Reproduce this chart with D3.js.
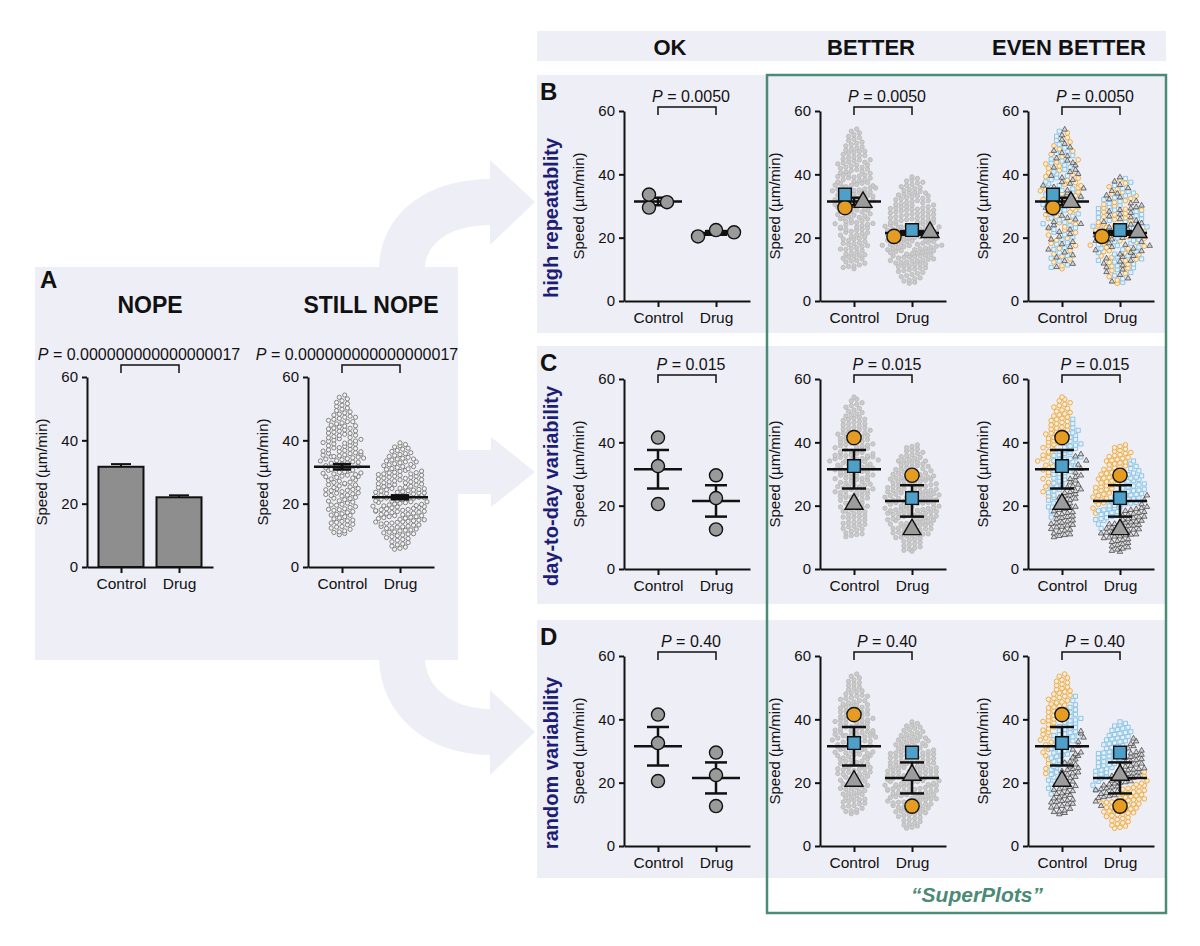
<!DOCTYPE html>
<html>
<head>
<meta charset="utf-8">
<script src="https://cdnjs.cloudflare.com/ajax/libs/d3/7.8.5/d3.min.js"></script>
<style>
  body { margin: 0; background: #fff; }
  svg text { font-family: "Liberation Sans", Arial, Helvetica, sans-serif; fill: #111; }
</style>
</head>
<body>
<div id="chart"></div>
<script>
(function () {
    // ---- data ----
    var categories = ["Control", "Drug"];
    var yTicks = [0, 20, 40, 60];

    // cell speeds (µm/min), split in the three experiment groups (low / mid / high)
    var ctrlLo = [10.2, 10.6, 10.9, 11.1, 11.4, 11.9, 12.3, 12.6, 12.8, 13.3, 13.5, 13.9, 14.1, 14.4, 14.6, 14.8,
        15.2, 15.5, 15.9, 16.3, 16.6, 16.8, 17.2, 17.5, 17.9, 18.1, 18.4, 18.8, 19.1, 19.5, 19.8,
        20.2, 20.5, 20.9, 21.3, 21.6, 22.0, 22.4, 22.7, 23.1, 23.4, 23.8, 24.2, 24.5, 24.8,
        25.3, 25.9, 26.4, 26.8, 27.5, 28.1, 28.6, 29.2, 29.7,
        30.6, 31.8, 33.1, 34.4, 35.7, 36.4];
    var ctrlMid = [16.4, 18.2, 19.6, 20.8, 21.7, 22.6, 23.3, 24.1, 24.7,
        25.1, 25.6, 26.2, 26.7, 27.1, 27.8, 28.3, 28.7, 29.0, 29.4, 29.9,
        30.1, 30.4, 30.8, 31.2, 31.5, 31.9, 32.2, 32.5, 32.9, 33.2, 33.6, 33.9, 34.2, 34.5, 34.7, 34.9,
        35.1, 35.4, 35.8, 36.1, 36.5, 36.8, 37.2, 37.4, 37.7, 38.1, 38.4, 38.8, 39.1, 39.5, 39.8,
        40.3, 40.9, 41.6, 42.2, 43.0, 43.8, 44.6, 45.9, 47.3];
    var ctrlHi = [22.9, 24.4, 26.0, 27.3, 28.5, 29.6,
        30.5, 31.3, 32.0, 32.8, 33.5, 34.1, 34.8,
        35.3, 35.9, 36.6, 37.0, 37.6, 38.3, 38.9, 39.3, 39.7,
        40.1, 40.5, 40.8, 41.2, 41.5, 41.9, 42.3, 42.6, 42.9, 43.3, 43.6, 43.9, 44.2, 44.5, 44.8,
        45.2, 45.5, 45.9, 46.3, 46.6, 46.9, 47.3, 47.6, 48.0, 48.3, 48.7, 49.0, 49.4, 49.8,
        50.2, 50.7, 51.1, 51.6, 52.0, 52.5, 53.1, 53.6, 54.3];
    var drugLo = [5.6, 5.9, 6.3, 6.6, 7.0, 7.3, 7.7, 8.0, 8.4, 8.7, 9.0, 9.3, 9.6, 9.9,
        10.1, 10.4, 10.5, 10.8, 11.0, 11.1, 11.4, 11.6, 11.7, 12.0, 12.2, 12.3, 12.6, 12.7, 12.9,
        13.2, 13.3, 13.6, 13.8, 13.9, 14.1, 14.3, 14.4, 14.6, 14.8, 14.9,
        15.1, 15.4, 15.7, 15.9, 16.2, 16.5, 16.7, 17.0, 17.3, 17.6, 17.9, 18.2, 18.5, 18.8, 19.1, 19.4, 19.8,
        20.6, 21.9, 23.4];
    var drugMid = [12.8, 14.2,
        15.3, 15.6, 15.9, 16.2, 16.6, 16.9, 17.2, 17.5, 17.8, 18.1, 18.4, 18.7, 19.0, 19.3, 19.6, 19.9,
        20.1, 20.3, 20.6, 20.8, 21.0, 21.3, 21.5, 21.7, 22.0, 22.2, 22.4, 22.7, 22.9, 23.1, 23.4, 23.6,
        23.8, 24.1, 24.3, 24.5, 24.7, 24.9,
        25.2, 25.5, 25.9, 26.2, 26.6, 26.9, 27.3, 27.6, 28.0, 28.3, 28.7, 29.0, 29.4, 29.8,
        30.3, 31.0, 31.7, 32.4, 33.2, 34.1];
    var drugHi = [17.6, 19.2,
        20.4, 20.9, 21.4, 21.8, 22.3, 22.7, 23.2, 23.6, 24.0, 24.4, 24.8,
        25.1, 25.4, 25.7, 26.0, 26.3, 26.6, 26.9, 27.2, 27.5, 27.8, 28.1, 28.4, 28.7, 28.9, 29.2, 29.4, 29.7, 29.9,
        30.2, 30.5, 30.8, 31.1, 31.4, 31.7, 32.0, 32.3, 32.6, 32.9, 33.2, 33.5, 33.8, 34.1, 34.3, 34.6, 34.9,
        35.2, 35.5, 35.8, 36.1, 36.5, 36.8, 37.2, 37.5, 37.9, 38.3, 38.7, 39.2];

    // replicate means per row, [Control, Drug], each [circle, square, triangle]
    var repB = [[29.5, 33.6, 31.2], [20.4, 22.4, 21.7]];
    var repC = [[41.5, 32.5, 20.5], [29.6, 22.4, 12.5]];
    var repD = [[41.5, 32.5, 20.5], [12.6, 29.5, 22.4]];

    // symbol of each experiment group [lo, mid, hi] (0 circle, 1 square, 2 triangle)
    var symC = [[2, 1, 0], [2, 1, 0]];
    var symD = [[2, 1, 0], [0, 2, 1]];

    var pA = "0.000000000000000017";
    var pRows = ["0.0050", "0.015", "0.40"];
    var rowLetters = ["B", "C", "D"];
    var rowLabels = ["high repeatablity", "day-to-day variability", "random variability"];
    var colTitles = ["OK", "BETTER", "EVEN BETTER"];

    // ---- styles ----
    var bg = "#eeeef7", navy = "#1d1d74", green = "#4b8b75";
    var bigFill = ["#e59c22", "#4ea0c9", "#9c9c9c"];
    var smallFill = ["#fcecd4", "#e6f2fa", "#d4d4d4"];
    var smallStroke = ["#e8a640", "#86c1e3", "#222"];
    var symTypes = [d3.symbolCircle, d3.symbolSquare, d3.symbolTriangle];

    var svg = d3.select("#chart").append("svg")
        .attr("width", 1200).attr("height", 946);

    // build cell objects for each condition
    function buildCells(groups) {
        var cells = [];
        groups.forEach(function (arr, g) {
            arr.forEach(function (v, i) { cells.push({ v: v, g: g, k: i * 3 + g }); });
        });
        // row B: replicates interleaved through the whole range
        cells.slice().sort(function (a, b) { return a.v - b.v; })
            .forEach(function (d, r) { d.rb = r % 3; });
        return cells;
    }
    var cells = [buildCells([ctrlLo, ctrlMid, ctrlHi]), buildCells([drugLo, drugMid, drugHi])];

    // ---- background arrows ----
    var arrows = svg.append("g").attr("fill", bg).attr("stroke", "none");
    arrows.append("path").attr("d", "M402,270 C402,228 438,202 492,202")
        .attr("fill", "none").attr("stroke", bg).attr("stroke-width", 46);
    arrows.append("path").attr("d", "M490,160 L535,202 L490,245 Z");
    arrows.append("rect").attr("x", 455).attr("y", 450).attr("width", 38).attr("height", 44);
    arrows.append("path").attr("d", "M491,437 L535,472 L491,507 Z");
    arrows.append("path").attr("d", "M402,657 C402,700 438,732 492,732")
        .attr("fill", "none").attr("stroke", bg).attr("stroke-width", 46);
    arrows.append("path").attr("d", "M490,690 L535,732 L490,775 Z");

    // ---- panel backgrounds ----
    svg.append("rect").attr("x", 35).attr("y", 267).attr("width", 423).attr("height", 393).attr("fill", bg);
    svg.append("rect").attr("x", 537).attr("y", 31).attr("width", 629).attr("height", 30).attr("fill", bg);
    var rowTop = [75, 346, 620];
    rowTop.forEach(function (t) {
        svg.append("rect").attr("x", 537).attr("y", t).attr("width", 629).attr("height", 258).attr("fill", bg);
    });

    // column titles
    var colX = [670, 871, 1069];
    colTitles.forEach(function (t, i) {
        svg.append("text").attr("x", colX[i]).attr("y", 55).attr("text-anchor", "middle")
            .attr("font-size", 22).attr("font-weight", "bold").text(t);
    });

    // ---- helpers ----
    function axes(x0, y0) {
        var y = d3.scaleLinear().domain([0, 60]).range([y0, y0 - 190]);
        var x = d3.scalePoint().domain(categories).range([x0, x0 + 126]).padding(0.586);
        var gy = svg.append("g").attr("transform", "translate(" + x0 + ",0)")
            .call(d3.axisLeft(y).tickValues(yTicks).tickSize(5).tickSizeOuter(0).tickPadding(4));
        var gx = svg.append("g").attr("transform", "translate(0," + y0 + ")")
            .call(d3.axisBottom(x).tickSize(6).tickSizeOuter(0).tickPadding(5));
        [gy, gx].forEach(function (g) {
            g.attr("font-family", null);
            g.select(".domain").attr("stroke", "#111").attr("stroke-width", 2);
            g.selectAll(".tick line").attr("stroke", "#111").attr("stroke-width", 2);
        });
        gy.selectAll("text").attr("font-size", 15);
        gx.selectAll("text").attr("font-size", 15.5);
        svg.append("text")
            .attr("transform", "translate(" + (x0 - 40) + "," + (y0 - 95) + ") rotate(-90)")
            .attr("text-anchor", "middle").attr("font-size", 15).text("Speed (µm/min)");
        return { x: x, y: y };
    }

    function bracket(s, pText, lift, dx) {
        var top = s.y(60) - lift;
        var x1 = s.x(categories[0]), x2 = s.x(categories[1]);
        svg.append("path")
            .attr("d", "M" + x1 + "," + (top + 8) + "V" + top + "H" + x2 + "V" + (top + 8))
            .attr("fill", "none").attr("stroke", "#111").attr("stroke-width", 1.5);
        var t = svg.append("text").attr("x", (x1 + x2) / 2 + dx).attr("y", top - 5)
            .attr("text-anchor", "middle").attr("font-size", 16);
        t.append("tspan").attr("font-style", "italic").text("P");
        t.append("tspan").text(" = " + pText);
    }

    // GraphPad-like scatter: points binned in rows and spread sideways
    function swarm(list, s, cx) {
        var h = 4.5, w = 5.4;
        var out = [];
        d3.group(list, function (d) { return Math.round(s.y(d.v) / h); }).forEach(function (arr) {
            arr.sort(function (a, b) { return a.k - b.k; });
            var n = arr.length;
            arr.forEach(function (d, i) {
                out.push({ d: d, x: cx + (i - (n - 1) / 2) * w, y: s.y(d.v) });
            });
        });
        return out;
    }

    // offsets for replicate markers that overlap
    function placeReps(vals, s, cx) {
        var step = 18, diam = 12, pts = [];
        vals.forEach(function (v, i) {
            var py = s.y(v), off = 0;
            while (pts.some(function (p) { return Math.hypot(p.off - off, p.y - py) < diam; })) off += step;
            pts.push({ i: i, v: v, y: py, off: off });
        });
        var shift = (d3.min(pts, function (p) { return p.off; }) + d3.max(pts, function (p) { return p.off; })) / 2;
        pts.forEach(function (p) { p.x = cx + p.off - shift; });
        return pts;
    }

    function meanBar(m, e, cx, s, half, cap) {
        var g = svg.append("g").attr("stroke", "#111").attr("stroke-width", 2.5).attr("fill", "none");
        g.append("line").attr("x1", cx - half).attr("x2", cx + half).attr("y1", s.y(m)).attr("y2", s.y(m));
        g.append("line").attr("x1", cx).attr("x2", cx).attr("y1", s.y(m - e)).attr("y2", s.y(m + e));
        [m - e, m + e].forEach(function (v) {
            g.append("line").attr("x1", cx - cap).attr("x2", cx + cap).attr("y1", s.y(v)).attr("y2", s.y(v));
        });
    }

    function sem(a) { return d3.deviation(a) / Math.sqrt(a.length); }

    // ---- panel A ----
    svg.append("text").attr("x", 40).attr("y", 288).attr("font-size", 24).attr("font-weight", "bold").text("A");
    svg.append("text").attr("x", 150).attr("y", 313).attr("text-anchor", "middle")
        .attr("font-size", 23).attr("font-weight", "bold").text("NOPE");
    svg.append("text").attr("x", 371).attr("y", 313).attr("text-anchor", "middle")
        .attr("font-size", 23).attr("font-weight", "bold").text("STILL NOPE");

    var sBar = axes(87, 567);
    bracket(sBar, pA, 12, -11);
    categories.forEach(function (c, ci) {
        var vals = cells[ci].map(function (d) { return d.v; });
        var m = d3.mean(vals), e = sem(vals), cx = sBar.x(c);
        svg.append("line").attr("x1", cx).attr("x2", cx).attr("y1", sBar.y(m)).attr("y2", sBar.y(m + e))
            .attr("stroke", "#111").attr("stroke-width", 2);
        svg.append("line").attr("x1", cx - 10).attr("x2", cx + 10).attr("y1", sBar.y(m + e)).attr("y2", sBar.y(m + e))
            .attr("stroke", "#111").attr("stroke-width", 2);
        svg.append("rect").attr("x", cx - 22.5).attr("width", 45)
            .attr("y", sBar.y(m)).attr("height", sBar.y(0) - sBar.y(m))
            .attr("fill", "#8e8e8e").attr("stroke", "#111").attr("stroke-width", 2);
    });

    var sDots = axes(308, 567);
    bracket(sDots, pA, 12, -14);
    categories.forEach(function (c, ci) {
        var cx = sDots.x(c);
        svg.append("g").selectAll("circle").data(swarm(cells[ci], sDots, cx)).enter().append("circle")
            .attr("cx", function (p) { return p.x; }).attr("cy", function (p) { return p.y; }).attr("r", 2.1)
            .attr("fill", "#f2f2f2").attr("stroke", "#777").attr("stroke-width", 0.9);
        var vals = cells[ci].map(function (d) { return d.v; });
        meanBar(d3.mean(vals), sem(vals), cx, sDots, 28, 9);
    });

    // ---- rows B, C, D ----
    var rowY0 = [301, 569, 846];
    var colX0 = [624, 820, 1028];
    var reps = [repB, repC, repD];
    var syms = [null, symC, symD];

    rowY0.forEach(function (y0, r) {
        var top = rowTop[r];
        svg.append("text").attr("x", 540).attr("y", top + 25).attr("font-size", 24)
            .attr("font-weight", "bold").text(rowLetters[r]);
        svg.append("text").attr("transform", "translate(558," + (y0 - 83) + ") rotate(-90)")
            .attr("text-anchor", "middle").attr("font-size", 20).attr("font-weight", "bold")
            .style("fill", navy).text(rowLabels[r]);

        function symOf(d, ci) { return r === 0 ? d.rb : syms[r][ci][d.g]; }

        colX0.forEach(function (x0, col) {
            var s = axes(x0, y0);
            bracket(s, pRows[r], 4, 4);
            categories.forEach(function (c, ci) {
                var cx = s.x(c), rv = reps[r][ci];
                var m = d3.mean(rv), e = sem(rv);
                if (col === 1) {
                    svg.append("g").selectAll("circle").data(swarm(cells[ci], s, cx)).enter().append("circle")
                        .attr("cx", function (p) { return p.x; }).attr("cy", function (p) { return p.y; })
                        .attr("r", 2.2).attr("fill", "#cbcbcb").attr("stroke", "#b6b6b6").attr("stroke-width", 0.8);
                }
                if (col === 2) {
                    var pts = swarm(cells[ci], s, cx);
                    [0, 1, 2].forEach(function (t) {
                        svg.append("g").selectAll("path")
                            .data(pts.filter(function (p) { return symOf(p.d, ci) === t; }))
                            .enter().append("path")
                            .attr("transform", function (p) { return "translate(" + p.x + "," + (p.y + (t === 2 ? 0.5 : 0)) + ")"; })
                            .attr("d", d3.symbol().type(symTypes[t]).size(t === 2 ? 13 : 17)())
                            .attr("fill", smallFill[t]).attr("stroke", smallStroke[t])
                            .attr("stroke-width", t === 2 ? 0.6 : 0.9);
                    });
                }
                if (col === 0) meanBar(m, e, cx, s, 24, 11);
                else meanBar(m, e, cx, s, 27, 12);

                var marks = placeReps(rv, s, cx);
                svg.append("g").selectAll("path").data(marks).enter().append("path")
                    .attr("transform", function (p) { return "translate(" + p.x + "," + p.y + ")"; })
                    .attr("d", function (p) {
                        var t = col === 0 ? 0 : p.i;
                        return d3.symbol().type(symTypes[t]).size(col === 0 ? 135 : (t === 2 ? 140 : 160))();
                    })
                    .attr("fill", function (p) { return col === 0 ? "#9a9a9a" : bigFill[p.i]; })
                    .attr("stroke", "#111").attr("stroke-width", 1.4);
            });
        });
    });

    // ---- SuperPlots frame ----
    svg.append("rect").attr("x", 767).attr("y", 75).attr("width", 399).attr("height", 838)
        .attr("fill", "none").attr("stroke", green).attr("stroke-width", 2.5);
    svg.append("text").attr("x", 977).attr("y", 902).attr("text-anchor", "middle")
        .attr("font-size", 21).attr("font-weight", "bold").attr("font-style", "italic")
        .style("fill", green).text("\u201cSuperPlots\u201d");
})();
</script>
</body>
</html>
